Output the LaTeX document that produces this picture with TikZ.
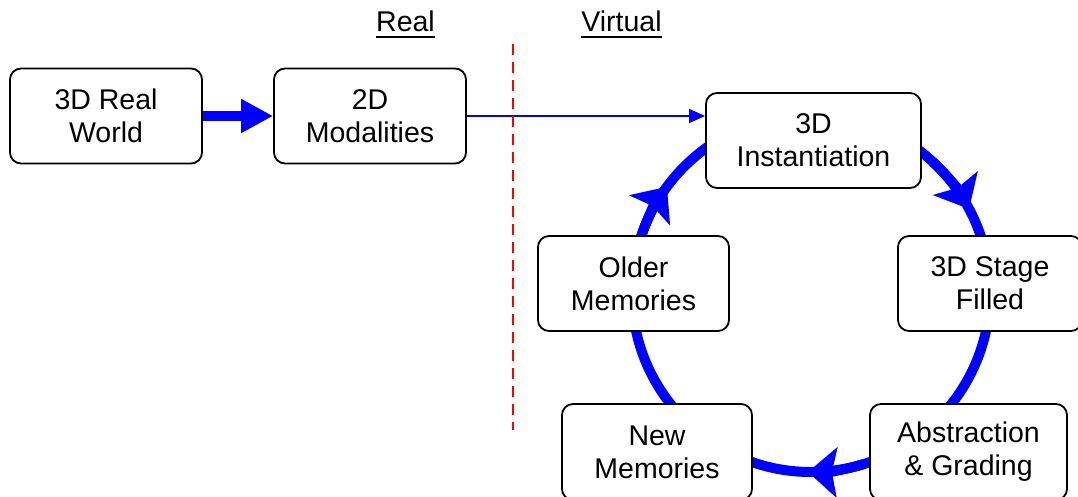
\documentclass[tikz,border=0pt]{standalone}
\usepackage{fontspec}
\setmainfont{Liberation Sans}
\usetikzlibrary{arrows.meta}
\begin{document}
\begin{tikzpicture}[x=1pt,y=1pt,
  box/.style={draw=black,line width=1.8pt,rounded corners=11pt,fill=white,align=center,
    inner sep=0pt,minimum height=95pt,font=\fontsize{28.5}{33}\selectfont},
  lbl/.style={inner sep=0pt,anchor=base,font=\fontsize{28.5}{33}\selectfont},
  cyc/.style={draw=blue,line width=10pt},
  cyctip/.style={draw=blue,line width=10pt,-{Stealth[length=29pt,width=50pt,inset=5pt]}}
]
\useasboundingbox (0,0) rectangle (1078,497);
% cycle circle
\coordinate (cc) at (811,204);
\draw[cyc] (cc) circle[radius=179];
\draw[cyctip] (cc) ++(162:179) arc[start angle=162,end angle=143.6,radius=179];
\draw[cyctip] (cc) ++(47:179) arc[start angle=47,end angle=28,radius=179];
\draw[cyctip] (cc) ++(-73:179) arc[start angle=-73,end angle=-91,radius=179];
% boxes
\node[box,minimum width=192pt] (real) at (106,381) {3D Real\\World};
\node[box,minimum width=192pt] (mod) at (370,381) {2D\\Modalities};
\node[box,minimum width=215pt] (inst) at (813.5,356.5) {3D\\Instantiation};
\node[box,minimum width=184pt] (stage) at (990,213.5) {3D Stage\\Filled};
\node[box,minimum width=197pt,minimum height=96pt] (abs) at (968.5,45) {Abstraction\\\& Grading};
\node[box,minimum width=190pt,minimum height=96pt] (newm) at (657,45) {New\\Memories};
\node[box,minimum width=191pt] (older) at (633.5,213.5) {Older\\Memories};
% arrows
\draw[blue,line width=10pt,-{Triangle[length=32pt,width=32pt]}] (real.east) -- (mod.west);
\draw[blue,line width=1.5pt,-{Triangle[length=16pt,width=14pt]}] (mod.east) -- (mod.east -| inst.west);
% divider
\coordinate (dtop) at (513,453);
\coordinate (dbot) at (513,67);
\draw[red,line width=2.2pt,dash pattern=on 11pt off 7pt] (dtop) -- (dbot);
% headings
\node[lbl] (realh) at (405.5,465) {Real};
\node[lbl] (virt) at (621.5,465) {Virtual};
\draw[line width=2pt] ([yshift=-5pt]realh.base west) -- ([yshift=-5pt]realh.base east);
\draw[line width=2pt] ([yshift=-5pt]virt.base west) -- ([yshift=-5pt]virt.base east);
\end{tikzpicture}
\end{document}
